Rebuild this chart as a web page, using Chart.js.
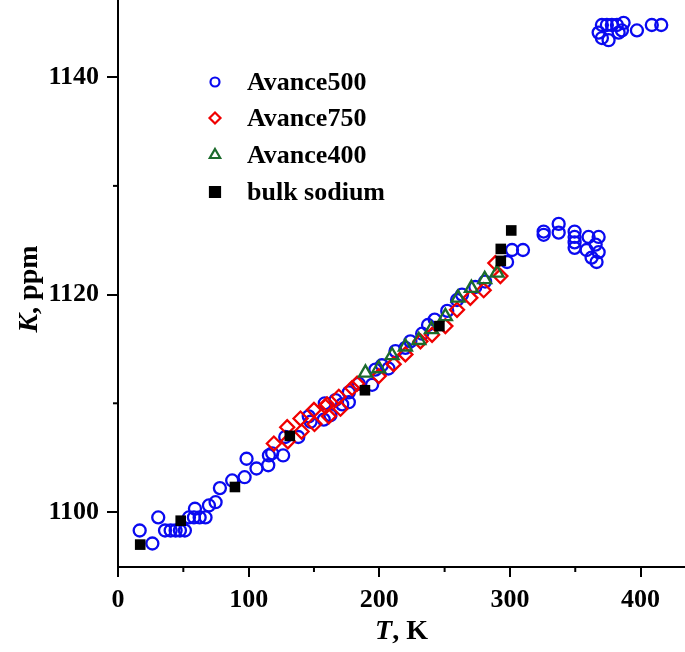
<!DOCTYPE html>
<html>
<head>
<meta charset="utf-8">
<script src="https://cdn.jsdelivr.net/npm/chart.js@4.4.0/dist/chart.umd.min.js"></script>
<style>
  html, body { margin: 0; padding: 0; background: #fff; }
</style>
</head>
<body>
<canvas id="graph" width="685" height="652"></canvas>
<script>
// values: temperature (K) and shift (ppm)
const a500T = [16.6, 26.3, 30.8, 36, 40.3, 44.1, 47.4, 51.2, 54.3, 58.1, 58.9, 62.5, 67, 69.6, 74.7, 78, 87.4, 96.9, 98.4, 106,
  115, 115.5, 118, 126.4, 128, 138, 146, 147.4, 157.5, 158.3, 162.6, 166.5, 171.6, 176.7, 176.7, 184.3, 194.5, 197, 202, 207,
  212.4, 220, 223.8, 232.8, 237.3, 242.4, 252, 259.5, 263.3, 273.5, 281, 297.8, 301.6, 310, 325.8, 325.8, 337.3, 337.3,
  349.5, 349.5, 349.5, 349.5, 360.2, 367.9, 365.6, 358.7, 367.9, 362.5, 366.3,
  367.9, 370.4, 370.4, 374.2, 375.5, 378, 381.9, 383.2, 385.7, 387, 397.2, 408.6, 415.8];
const a500K = [1098.3, 1097.1, 1099.5, 1098.3, 1098.3, 1098.3, 1098.3, 1098.3, 1099.5, 1099.5, 1100.3, 1099.5, 1099.5, 1100.6, 1100.9, 1102.2, 1102.9, 1103.2, 1104.9, 1104.0,
  1104.3, 1105.2, 1105.4, 1105.2, 1106.9, 1106.9, 1108.8, 1108.3, 1108.5, 1110.0, 1108.9, 1110.3, 1109.9, 1110.1, 1111.0, 1111.8, 1111.7, 1113.1, 1113.5, 1113.2,
  1114.8, 1115.1, 1115.7, 1116.4, 1117.2, 1117.7, 1118.5, 1119.5, 1120.0, 1120.7, 1121.2, 1123.0, 1124.1, 1124.1, 1125.8, 1125.5, 1126.5, 1125.7,
  1125.8, 1125.3, 1124.8, 1124.3, 1125.3, 1125.3, 1124.6, 1124.1, 1123.9, 1123.4, 1123.0,
  1144.1, 1144.8, 1143.6, 1144.8, 1143.4, 1144.8, 1144.8, 1144.1, 1144.3, 1145.0, 1144.3, 1144.8, 1144.8];

const a750T = [119.3, 129.5, 130, 139.7, 140.5, 150, 150.4, 158.8, 160, 161.4, 169, 170.3, 179.2, 183, 199.6, 211, 220, 231.5,
  240.4, 250.6, 259.5, 269.7, 279.9, 288.8, 292.7];
const a750K = [1106.3, 1107.8, 1106.5, 1108.6, 1107.4, 1109.4, 1108.1, 1109.7, 1109.9, 1108.8, 1110.6, 1109.5, 1111.4, 1111.8, 1112.5, 1113.6, 1114.5, 1115.7,
  1116.3, 1117.1, 1118.6, 1119.7, 1120.4, 1122.9, 1121.7];

const a400T = [189.4, 199.6, 209.8, 220, 230.2, 239.9, 250.6, 260.3, 270.5, 280.7, 290.1];
const a400K = [1112.8, 1113.2, 1114.4, 1115.2, 1115.8, 1116.8, 1118.0, 1119.7, 1120.6, 1121.4, 1122.0];

const bulkT = [17, 48, 89.5, 131.5, 189, 246, 293, 293, 301];
const bulkK = [1097.0, 1099.2, 1102.3, 1107.0, 1111.2, 1117.1, 1123.1, 1124.2, 1125.9];

const seriesNames = ['Avance500', 'Avance750', 'Avance400', 'bulk sodium'];
const xTickLabels = [0, 100, 200, 300, 400];
const yTickLabels = [1100, 1120, 1140];

function pts(xs, ys) {
  return xs.map((x, i) => ({ x: x, y: ys[i] }));
}

const serif = '"Liberation Serif", "Times New Roman", serif';

// minor ticks shorter than the labelled ones
const minorTicks = {
  id: 'minorTicks',
  afterDraw(chart) {
    const ctx = chart.ctx;
    ctx.save();
    ctx.strokeStyle = '#000';
    ctx.lineWidth = 2;
    const xs = chart.scales.x, ys = chart.scales.y;
    xs.ticks.forEach(t => {
      if (xTickLabels.includes(t.value)) return;
      const px = xs.getPixelForValue(t.value);
      ctx.beginPath(); ctx.moveTo(px, xs.top); ctx.lineTo(px, xs.top + 5); ctx.stroke();
    });
    ys.ticks.forEach(t => {
      if (yTickLabels.includes(t.value)) return;
      const py = ys.getPixelForValue(t.value);
      ctx.beginPath(); ctx.moveTo(ys.right, py); ctx.lineTo(ys.right - 5, py); ctx.stroke();
    });
    ctx.restore();
  }
};

// axis titles with italic symbol
function mixedText(ctx, parts, x, y) {
  let total = 0;
  parts.forEach(p => { ctx.font = p.font; p.w = ctx.measureText(p.text).width; total += p.w; });
  let cx = x - total / 2;
  parts.forEach(p => { ctx.font = p.font; ctx.fillText(p.text, cx, y); cx += p.w; });
}
const axisTitles = {
  id: 'axisTitles',
  afterDraw(chart) {
    const ctx = chart.ctx;
    const a = chart.chartArea;
    ctx.save();
    ctx.fillStyle = '#000';
    ctx.textBaseline = 'middle';
    ctx.textAlign = 'left';
    mixedText(ctx, [
      { text: 'T', font: 'italic bold 28px ' + serif },
      { text: ', K', font: 'bold 28px ' + serif }
    ], (a.left + a.right) / 2, 632);
    ctx.translate(30, 289);
    ctx.rotate(-Math.PI / 2);
    mixedText(ctx, [
      { text: 'K', font: 'italic bold 28px ' + serif },
      { text: ', ppm', font: 'bold 28px ' + serif }
    ], 0, 0);
    ctx.restore();
  }
};

// legend inside the plot, top-left
const innerLegend = {
  id: 'innerLegend',
  afterDraw(chart) {
    const ctx = chart.ctx;
    ctx.save();
    ctx.font = 'bold 26px ' + serif;
    ctx.textBaseline = 'middle';
    const rowY = [82, 118, 155, 192];
    chart.data.datasets.forEach((ds, i) => {
      const x = 215, y = rowY[i];
      ctx.lineWidth = 2.2;
      ctx.strokeStyle = ds.borderColor;
      ctx.fillStyle = ds.backgroundColor;
      ctx.beginPath();
      if (ds.pointStyle === 'circle') {
        ctx.arc(x, y, 4.5, 0, Math.PI * 2);
      } else if (ds.pointStyle === 'rectRot') {
        ctx.moveTo(x - 5.5, y); ctx.lineTo(x, y - 5.5); ctx.lineTo(x + 5.5, y); ctx.lineTo(x, y + 5.5);
      } else if (ds.pointStyle === 'triangle') {
        const r = 6;
        ctx.moveTo(x, y - r);
        ctx.lineTo(x + Math.sin(2 * Math.PI / 3) * r, y - Math.cos(2 * Math.PI / 3) * r);
        ctx.lineTo(x + Math.sin(4 * Math.PI / 3) * r, y - Math.cos(4 * Math.PI / 3) * r);
      } else {
        ctx.rect(x - 5, y - 5, 10, 10);
      }
      ctx.closePath();
      ctx.fill();
      ctx.stroke();
      ctx.fillStyle = '#000';
      ctx.fillText(ds.label, 247, y + 1);
    });
    ctx.restore();
  }
};

new Chart(document.getElementById('graph'), {
  type: 'scatter',
  data: {
    datasets: [
      { label: seriesNames[0], data: pts(a500T, a500K), pointStyle: 'circle', pointRadius: 6,
        borderColor: '#0a0af0', backgroundColor: 'rgba(0,0,0,0)', borderWidth: 2.3, order: 4 },
      { label: seriesNames[1], data: pts(a750T, a750K), pointStyle: 'rectRot', pointRadius: 7,
        borderColor: '#f00000', backgroundColor: 'rgba(0,0,0,0)', borderWidth: 2.3, order: 3 },
      { label: seriesNames[2], data: pts(a400T, a400K), pointStyle: 'triangle', pointRadius: 7.5,
        borderColor: '#1c6b2c', backgroundColor: 'rgba(0,0,0,0)', borderWidth: 2.3, order: 2 },
      { label: seriesNames[3], data: pts(bulkT, bulkK), pointStyle: 'rect', pointRadius: 7.5,
        borderColor: '#000', backgroundColor: '#000', borderWidth: 0, order: 1 }
    ]
  },
  options: {
    responsive: false,
    animation: false,
    layout: { padding: 0, autoPadding: false },
    plugins: { legend: { display: false }, tooltip: { enabled: false } },
    scales: {
      x: {
        type: 'linear',
        min: 0, max: 434,
        afterFit(s) { s.height = 85; s.paddingLeft = 0; s.paddingRight = 0; },
        border: { color: '#000', width: 2 },
        grid: {
          drawOnChartArea: false, tickLength: 10, lineWidth: 2,
          color: c => (c.tick && xTickLabels.includes(c.tick.value)) ? '#000' : 'rgba(0,0,0,0)'
        },
        ticks: {
          stepSize: 50, includeBounds: false, maxRotation: 0, autoSkip: false,
          color: '#000', padding: 8,
          font: { family: serif, size: 26, weight: 'bold' },
          callback: v => xTickLabels.includes(v) ? String(v) : ''
        }
      },
      y: {
        type: 'linear',
        min: 1094.94, max: 1147.1,
        afterFit(s) { s.width = 118; s.paddingTop = 0; s.paddingBottom = 0; },
        border: { color: '#000', width: 2 },
        grid: {
          drawOnChartArea: false, tickLength: 11, lineWidth: 2,
          color: c => (c.tick && yTickLabels.includes(c.tick.value)) ? '#000' : 'rgba(0,0,0,0)'
        },
        ticks: {
          stepSize: 10, includeBounds: false, autoSkip: false,
          color: '#000', padding: 8,
          font: { family: serif, size: 26, weight: 'bold' },
          callback: v => yTickLabels.includes(v) ? String(v) : ''
        }
      }
    }
  },
  plugins: [minorTicks, axisTitles, innerLegend]
});
</script>
</body>
</html>
